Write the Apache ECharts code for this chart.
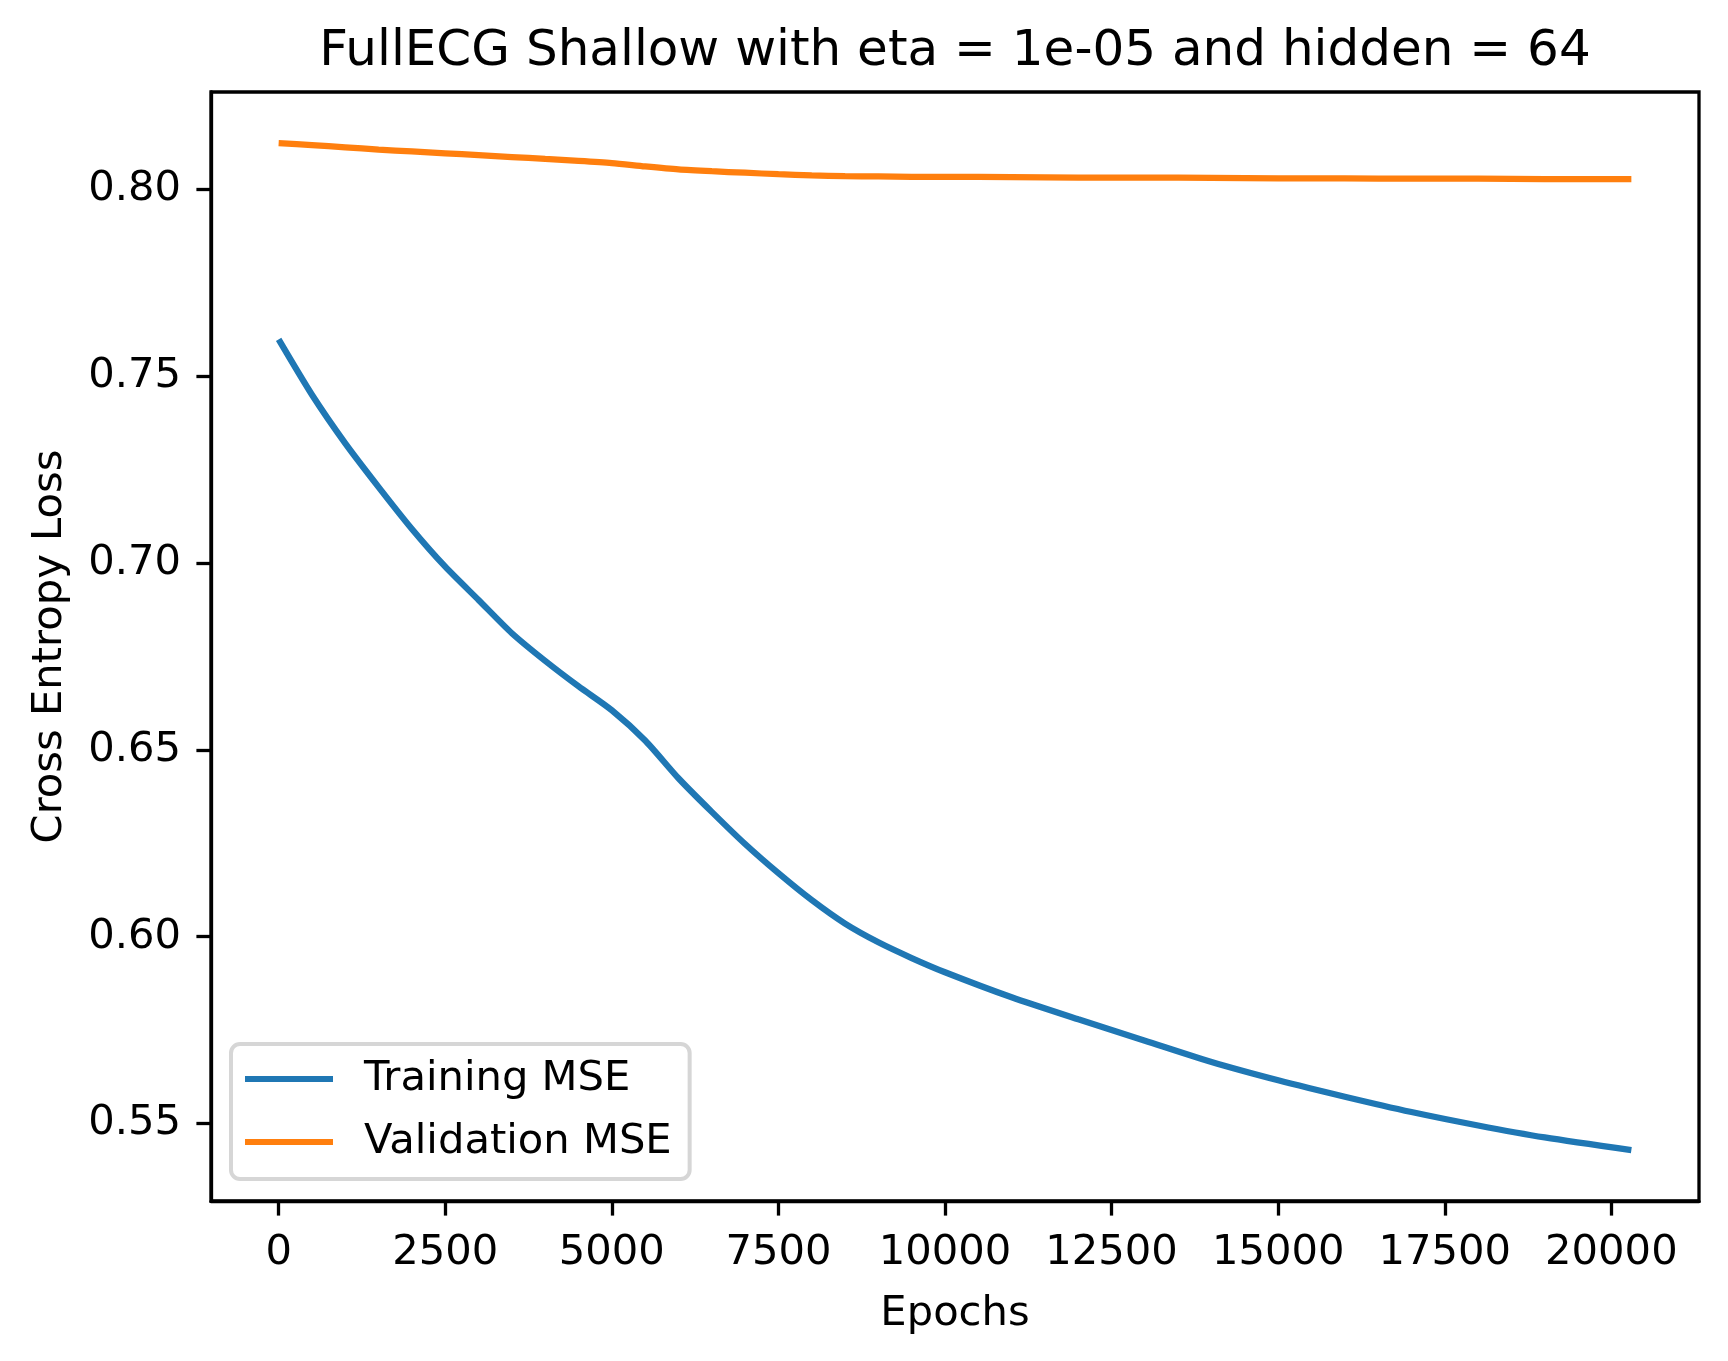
<!DOCTYPE html>
<html>
<head>
<meta charset="utf-8">
<script src="https://cdn.jsdelivr.net/npm/echarts@6/dist/echarts.min.js"></script>
<style>
  html, body { margin: 0; padding: 0; background: #fff; }
  #chart { width: 1728px; height: 1361px; }
</style>
</head>
<body>
<div id="chart"></div>
<script>
// values
const epochs = [0, 500, 1000, 1500, 2000, 2500, 3000, 3500, 4000, 4500, 5000, 5500, 6000, 6500, 7000,
  7500, 8000, 8500, 9000, 9500, 10000, 11000, 12000, 13000, 14000, 15000, 16000, 17000, 18000, 19000, 20300];
const trainLoss = [0.7598, 0.7450, 0.7320, 0.7203, 0.7091, 0.6990, 0.6901, 0.6812, 0.6738, 0.6670, 0.6606,
  0.6525, 0.6424, 0.6334, 0.6248, 0.6170, 0.6098, 0.6035, 0.5985, 0.5943, 0.5905, 0.5838, 0.5779, 0.5722,
  0.5665, 0.5616, 0.5572, 0.5531, 0.5495, 0.5463, 0.5429];
const valLoss = [0.8123, 0.8118, 0.8112, 0.8106, 0.8101, 0.8096, 0.8091, 0.8086, 0.8081, 0.8076, 0.8070,
  0.8061, 0.8053, 0.8048, 0.8044, 0.8040, 0.8037, 0.8035, 0.8034, 0.8033, 0.8033, 0.8032, 0.8031, 0.8031,
  0.8030, 0.8029, 0.8029, 0.8028, 0.8028, 0.8027, 0.8027];
const xTicks = [0, 2500, 5000, 7500, 10000, 12500, 15000, 17500, 20000];
const yTicks = [0.55, 0.60, 0.65, 0.70, 0.75, 0.80];

const font = 'DejaVu Sans';
const fs = 41.67;

const chart = echarts.init(document.getElementById('chart'), null, { renderer: 'canvas' });

function pairs(ys) {
  return epochs.map((e, i) => [e, ys[i]]);
}

chart.setOption({
  animation: false,
  backgroundColor: '#fff',
  title: {
    text: 'FullECG Shallow with eta = 1e-05 and hidden = 64',
    left: 955,
    top: 27,
    padding: 0,
    textAlign: 'center',
    textStyle: { fontFamily: font, fontSize: 50, fontWeight: 'normal', color: '#000' }
  },
  grid: {
    left: 211, top: 92, width: 1488, height: 1109,
    show: true, borderColor: '#000', borderWidth: 3.3, backgroundColor: 'transparent'
  },
  legend: {
    left: 231, bottom: 182,
    orient: 'vertical',
    data: ['Training MSE', 'Validation MSE'],
    icon: 'rect',
    itemWidth: 88, itemHeight: 6,
    itemGap: 21,
    padding: [14, 18, 16, 14],
    backgroundColor: 'rgba(255,255,255,0.8)',
    borderColor: '#d6d6d6', borderWidth: 4, borderRadius: 9,
    textStyle: { fontFamily: font, fontSize: fs, color: '#000', padding: [0, 0, 0, 26] }
  },
  xAxis: {
    type: 'value',
    min: -1015, max: 21315,
    name: 'Epochs', nameLocation: 'middle', nameGap: 92,
    nameTextStyle: { fontFamily: font, fontSize: fs, color: '#000' },
    splitLine: { show: false },
    axisLine: { show: true, onZero: false, lineStyle: { color: '#000', width: 3.3 } },
    axisTick: { show: true, length: 14.6, lineStyle: { color: '#000', width: 3.3 }, customValues: xTicks },
    axisLabel: {
      fontFamily: font, fontSize: fs, color: '#000', margin: 31,
      customValues: xTicks,
      formatter: v => String(Math.round(v))
    }
  },
  yAxis: {
    type: 'value',
    min: 0.5293, max: 0.8260,
    name: 'Cross Entropy Loss', nameLocation: 'middle', nameGap: 140, nameRotate: 90,
    nameTextStyle: { fontFamily: font, fontSize: fs, color: '#000' },
    splitLine: { show: false },
    axisLine: { show: true, onZero: false, lineStyle: { color: '#000', width: 3.3 } },
    axisTick: { show: true, length: 14.6, lineStyle: { color: '#000', width: 3.3 }, customValues: yTicks },
    axisLabel: {
      fontFamily: font, fontSize: fs, color: '#000', margin: 30,
      customValues: yTicks,
      formatter: v => v.toFixed(2)
    }
  },
  series: [
    {
      name: 'Training MSE', type: 'line', data: pairs(trainLoss),
      symbol: 'none', smooth: 0.25,
      lineStyle: { color: '#1f77b4', width: 6.25 }, itemStyle: { color: '#1f77b4' }
    },
    {
      name: 'Validation MSE', type: 'line', data: pairs(valLoss),
      symbol: 'none', smooth: 0.25,
      lineStyle: { color: '#ff7f0e', width: 6.25 }, itemStyle: { color: '#ff7f0e' }
    }
  ]
});
</script>
</body>
</html>
